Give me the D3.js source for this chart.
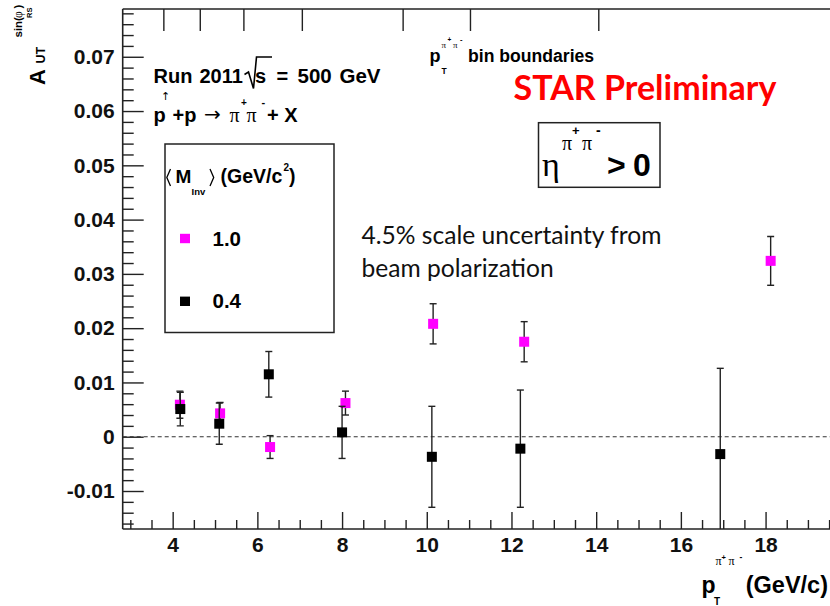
<!DOCTYPE html>
<html>
<head>
<meta charset="utf-8">
<script src="https://cdn.jsdelivr.net/npm/d3@7"></script>
<style>
  html, body { margin: 0; padding: 0; background: #fff; }
  svg { display: block; }
</style>
</head>
<body>
<svg id="chart" width="830" height="606"></svg>
<script>
// Run 2011 sqrt(s)=500 GeV, A_UT^{sin(phi_RS)} vs pair pT, eta > 0
// <M_inv> = 1.0 GeV/c^2 bin
const ptHighMass  = [4.17, 5.12, 6.30, 8.08, 10.15, 12.30, 18.12];
const autHighMass = [0.0059, 0.0043, -0.0019, 0.0062, 0.0208, 0.0175, 0.0324];
const errHighMass = [0.0025, 0.0020, 0.0021, 0.0022, 0.0037, 0.0037, 0.0045];
// <M_inv> = 0.4 GeV/c^2 bin
const ptLowMass  = [4.18, 5.10, 6.27, 8.00, 10.12, 12.21, 16.93];
const autLowMass = [0.0051, 0.0024, 0.0115, 0.0008, -0.0037, -0.0022, -0.0032];
const errLowMass = [0.0031, 0.0038, 0.0042, 0.0048, 0.0093, 0.0108, 0.0158];
// pT bin boundaries, marked on the top axis
const binBoundaries = [3.78, 4.64, 5.67, 7.05, 9.43, 11.02, 14.05];
// axis ticks
const xTickLabels = [4, 6, 8, 10, 12, 14, 16, 18];
const yTickLabels = [-0.01, 0, 0.01, 0.02, 0.03, 0.04, 0.05, 0.06, 0.07];
const legendLabels = ["1.0", "0.4"];
const seriesColors = ["#ff00ff", "#000000"];

const svg = d3.select("#chart");
const ROOT_FONT = "'Liberation Sans', Arial, Helvetica, sans-serif";
const SERIF = "'Liberation Serif', 'DejaVu Serif', serif";
const SLIDE_FONT = "Lato, 'Open Sans', sans-serif";
const AXIS_COLOR = "#222";

const plot = { left: 122.7, top: 9, bottom: 529 };
const x = d3.scaleLinear().domain([2.82, 20]).range([plot.left, plot.left + (20 - 2.82) * 42.35]);
const y = d3.scaleLinear().domain([-0.017, 0.0788]).range([plot.bottom, plot.top]);

svg.append("rect").attr("width", 830).attr("height", 606).attr("fill", "#fff");

svg.append("defs").append("clipPath").attr("id", "plotClip")
  .append("rect")
  .attr("x", plot.left).attr("y", plot.top)
  .attr("width", x.range()[1] - plot.left).attr("height", plot.bottom - plot.top);

// ---- axes ----
const fmtY = v => (Math.abs(v) < 1e-9 ? "0" : v.toFixed(2));

function styleAxis(g) {
  g.select(".domain").remove();
  g.selectAll(".tick line").attr("stroke", AXIS_COLOR).attr("stroke-width", 1.4);
  g.selectAll(".tick text")
    .attr("fill", "#111")
    .style("font-family", ROOT_FONT)
    .style("font-weight", "bold")
    .style("font-size", "21px");
}

const xMinor = d3.range(3, 19.75, 0.5).filter(v => !xTickLabels.includes(v));
const yMinor = d3.range(-16, 79, 2).map(v => +(v / 1000).toFixed(3))
  .filter(v => !yTickLabels.some(t => Math.abs(t - v) < 1e-9));

svg.append("g").attr("transform", `translate(0,${plot.bottom})`)
  .call(d3.axisBottom(x).tickValues(xMinor).tickSize(-9).tickFormat(""))
  .call(styleAxis);
svg.append("g").attr("transform", `translate(0,${plot.bottom})`)
  .call(d3.axisBottom(x).tickValues(xTickLabels).tickSize(-17).tickPadding(8).tickFormat(d3.format("d")))
  .call(styleAxis);

svg.append("g").attr("transform", `translate(${plot.left},0)`)
  .call(d3.axisLeft(y).tickValues(yMinor).tickSize(-11).tickFormat(""))
  .call(styleAxis);
svg.append("g").attr("transform", `translate(${plot.left},0)`)
  .call(d3.axisLeft(y).tickValues(yTickLabels).tickSize(-21).tickPadding(8).tickFormat(fmtY))
  .call(styleAxis);

// bin boundaries on the top edge
svg.append("g").attr("transform", `translate(0,${plot.top})`)
  .call(d3.axisTop(x).tickValues(binBoundaries).tickSize(-22).tickFormat(""))
  .call(styleAxis);

// frame
const frame = svg.append("g").attr("stroke", AXIS_COLOR).attr("stroke-width", 1.6).attr("fill", "none");
frame.append("line").attr("x1", plot.left).attr("x2", x.range()[1]).attr("y1", plot.bottom).attr("y2", plot.bottom);
frame.append("line").attr("x1", plot.left).attr("x2", x.range()[1]).attr("y1", plot.top).attr("y2", plot.top);
frame.append("line").attr("x1", plot.left).attr("x2", plot.left).attr("y1", plot.top).attr("y2", plot.bottom);

// zero line
svg.append("line")
  .attr("x1", plot.left).attr("x2", x.range()[1])
  .attr("y1", y(0)).attr("y2", y(0))
  .attr("stroke", "#333").attr("stroke-width", 1.1).attr("stroke-dasharray", "4,3");

// ---- data ----
const series = [
  { pt: ptHighMass, a: autHighMass, e: errHighMass, color: seriesColors[0] },
  { pt: ptLowMass,  a: autLowMass,  e: errLowMass,  color: seriesColors[1] }
];
const dataLayer = svg.append("g").attr("clip-path", "url(#plotClip)");
const MARK = 10, CAP = 3.5;

series.forEach(s => {
  const pts = s.pt.map((p, i) => ({ p, a: s.a[i], e: s.e[i] }));
  const bars = dataLayer.append("g").attr("stroke", "#222").attr("stroke-width", 1.4);
  pts.forEach(d => {
    const cx = x(d.p), y1 = y(d.a + d.e), y2 = y(d.a - d.e);
    bars.append("line").attr("x1", cx).attr("x2", cx).attr("y1", y1).attr("y2", y2);
    bars.append("line").attr("x1", cx - CAP).attr("x2", cx + CAP).attr("y1", y1).attr("y2", y1);
    bars.append("line").attr("x1", cx - CAP).attr("x2", cx + CAP).attr("y1", y2).attr("y2", y2);
  });
  dataLayer.append("g").selectAll("rect").data(pts).join("rect")
    .attr("x", d => x(d.p) - MARK / 2).attr("y", d => y(d.a) - MARK / 2)
    .attr("width", MARK).attr("height", MARK)
    .attr("fill", s.color);
});

// ---- text helpers ----
function txt(xp, yp, str, size, opts = {}) {
  const t = svg.append("text")
    .attr("fill", opts.fill || "#000")
    .attr("text-anchor", opts.anchor || "start")
    .style("font-family", opts.family || ROOT_FONT)
    .style("font-weight", opts.weight || "bold")
    .style("font-size", size + "px")
    .text(str);
  if (opts.rotate) t.attr("transform", `translate(${xp},${yp}) rotate(-90)`);
  else t.attr("x", xp).attr("y", yp);
  return t;
}
function fitText(node, width) {
  const len = node.node().getComputedTextLength();
  const size = parseFloat(node.style("font-size"));
  node.style("font-size", (size * width / len) + "px");
  return size * width / len;
}
const greek = { family: SERIF, weight: "normal" };

// y-axis title, reading bottom to top
txt(45, 85, "A", 22, { rotate: true });
txt(45, 63.5, "UT", 12.5, { rotate: true });
txt(22, 37.5, "sin(", 11.5, { rotate: true });
txt(22, 18, "\u03c6", 11.5, { rotate: true, family: SERIF, weight: "normal" });
txt(31.5, 18, "RS", 7.5, { rotate: true });
txt(22, 8.5, ")", 11.5, { rotate: true });

// x-axis title
txt(701.5, 593, "p", 23);
txt(714, 605, "T", 10);
txt(715.5, 565, "\u03c0", 12, greek);
txt(721.5, 559.5, "+", 7.5);
txt(728.5, 565, "\u03c0", 12, greek);
txt(739.5, 559.5, "-", 8.5);
txt(828, 593, "(GeV/c)", 23.5, { anchor: "end" });

// Run / energy line
txt(153.5, 83.3, "Run", 20);
txt(199.5, 83.3, "2011", 20);
svg.append("path").attr("d", "M244.5,74.5 L248.5,72 L253.5,88.5 L256.5,57 L272,57")
  .attr("fill", "none").attr("stroke", "#000").attr("stroke-width", 1.6);
txt(255, 83.3, "s", 20);
txt(276.5, 83.3, "=", 20);
txt(297.5, 83.3, "500", 20.5);
txt(339.5, 83.3, "GeV", 20.5);

// reaction line
txt(153.5, 121.7, "p", 20);
txt(161, 100, "\u2191", 11, { family: "'DejaVu Sans', sans-serif", weight: "normal" });
txt(172.5, 121.7, "+p", 20);
txt(204, 120.5, "\u2192", 20, { family: "'DejaVu Sans', sans-serif", weight: "normal" });
txt(229.5, 121.7, "\u03c0", 20, greek);
txt(241, 106, "+", 10);
txt(246.5, 121.7, "\u03c0", 20, greek);
txt(261.5, 106, "-", 11);
txt(267, 121.7, "+ X", 20);

// pT bin boundaries note
txt(429.5, 61.5, "p", 18);
txt(441.5, 73.5, "T", 8.5);
txt(441.5, 48, "\u03c0", 9, greek);
txt(447.5, 42, "+", 6.5);
txt(453, 48, "\u03c0", 9, greek);
txt(460, 42, "-", 7.5);
txt(468, 61.5, "bin boundaries", 17.6);

// STAR Preliminary
const star = txt(513.5, 100, "STAR Preliminary", 32, { family: SLIDE_FONT, fill: "#ff0000" });
fitText(star, 263);

// eta box
svg.append("rect").attr("x", 538.5).attr("y", 122.7).attr("width", 121.5).attr("height", 64.6)
  .attr("fill", "none").attr("stroke", AXIS_COLOR).attr("stroke-width", 1.5);
txt(542, 175.5, "\u03b7", 34, greek);
txt(562, 150, "\u03c0", 20, greek);
txt(572, 134.5, "+", 13);
txt(582, 150, "\u03c0", 20, greek);
txt(596, 134.5, "-", 14);
txt(607, 175.5, ">", 32);
txt(633, 175.5, "0", 32);

// scale uncertainty note
const note1 = txt(361.5, 244, "4.5% scale uncertainty from", 20, { family: SLIDE_FONT, weight: "normal", fill: "#111" });
const noteSize = fitText(note1, 300);
txt(361.5, 276.5, "beam polarization", noteSize, { family: SLIDE_FONT, weight: "normal", fill: "#111" });

// legend
svg.append("rect").attr("x", 165).attr("y", 144).attr("width", 169).attr("height", 188.5)
  .attr("fill", "none").attr("stroke", AXIS_COLOR).attr("stroke-width", 1.5);
svg.append("path").attr("d", "M170.5,169 L166.8,177.5 L170.5,186 M210,169 L213.7,177.5 L210,186")
  .attr("fill", "none").attr("stroke", "#000").attr("stroke-width", 1.3);
txt(175.5, 183, "M", 19);
txt(191.5, 195, "Inv", 9.5);
txt(220.5, 183, "(GeV/c", 19.5);
txt(283.5, 170.5, "2", 10);
txt(289, 183, ")", 19.5);

const legendY = [238.5, 301.3];
legendLabels.forEach((lab, i) => {
  svg.append("rect").attr("x", 180).attr("y", legendY[i] - 4.7)
    .attr("width", 10).attr("height", 9.4).attr("fill", seriesColors[i]);
  txt(212.5, legendY[i] + 7, lab, 20.5);
});
</script>
</body>
</html>
